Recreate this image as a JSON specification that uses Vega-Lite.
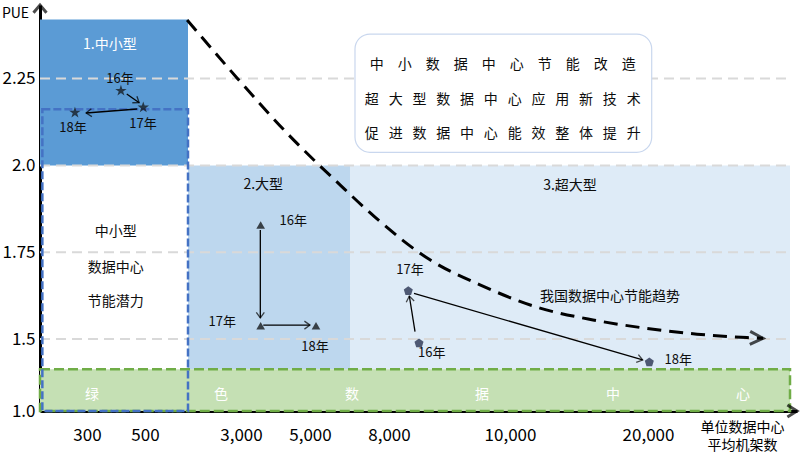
{
  "$schema": "https://vega.github.io/schema/vega-lite/v6.json",
  "width": 757,
  "height": 406,
  "autosize": {"type": "none"},
  "padding": {"left": 40, "top": 5, "right": 3, "bottom": 44},
  "background": "white",
  "config": {"font": "Noto Sans CJK SC", "view": {"stroke": null}},
  "datasets": {
    "regions": [
      {"名称": "中小型", "机架数": 0, "机架数2": 1000, "PUE": 2.0, "PUE2": 2.42},
      {"名称": "大型", "机架数": 1000, "机架数2": 6000, "PUE": 1.29, "PUE2": 2.0},
      {"名称": "超大型", "机架数": 6000, "机架数2": 30000, "PUE": 1.29, "PUE2": 2.0}
    ],
    "trend": [
      {"序": 1, "机架数": 990, "PUE": 2.419},
      {"序": 2, "机架数": 2849, "PUE": 2.252},
      {"序": 3, "机架数": 4333, "PUE": 2.093},
      {"序": 4, "机架数": 5750, "PUE": 1.944},
      {"序": 5, "机架数": 7282, "PUE": 1.851},
      {"序": 6, "机架数": 8678, "PUE": 1.728},
      {"序": 7, "机架数": 9504, "PUE": 1.656},
      {"序": 8, "机架数": 12174, "PUE": 1.589},
      {"序": 9, "机架数": 16014, "PUE": 1.555},
      {"序": 10, "机架数": 19637, "PUE": 1.532},
      {"序": 11, "机架数": 23451, "PUE": 1.514},
      {"序": 12, "机架数": 26972, "PUE": 1.504},
      {"序": 13, "机架数": 28098, "PUE": 1.502}
    ],
    "points": [
      {"类型": "中小型", "年份": "16年", "机架数": 417, "PUE": 2.215},
      {"类型": "中小型", "年份": "17年", "机架数": 494, "PUE": 2.167},
      {"类型": "中小型", "年份": "18年", "机架数": 223, "PUE": 2.152},
      {"类型": "大型", "年份": "16年", "机架数": 3570, "PUE": 1.828},
      {"类型": "大型", "年份": "17年", "机架数": 3570, "PUE": 1.538},
      {"类型": "大型", "年份": "18年", "机架数": 5150, "PUE": 1.538},
      {"类型": "超大型", "年份": "16年", "机架数": 8496, "PUE": 1.47},
      {"类型": "超大型", "年份": "17年", "机架数": 8319, "PUE": 1.638},
      {"类型": "超大型", "年份": "18年", "机架数": 20092, "PUE": 1.338}
    ],
    "arrows": [
      {"类型": "中小型", "从": "16年", "机架数": 437, "PUE": 2.2056, "机架数2": 480, "PUE2": 2.1806},
      {"类型": "中小型", "从": "17年", "机架数": 473, "PUE": 2.1624, "机架数2": 294, "PUE2": 2.1509},
      {"类型": "大型", "从": "16年", "机架数": 3560, "PUE": 1.8139, "机架数2": 3560, "PUE2": 1.5605},
      {"类型": "大型", "从": "17年", "机架数": 3646, "PUE": 1.540, "机架数2": 5000, "PUE2": 1.540},
      {"类型": "超大型", "从": "16年", "机架数": 8430, "PUE": 1.521, "机架数2": 8336, "PUE2": 1.6238},
      {"类型": "超大型", "从": "17年", "机架数": 8413, "PUE": 1.6316, "机架数2": 19615, "PUE2": 1.3542}
    ],
    "yearLabels": [
      {"label": "16年", "机架数": 414, "PUE": 2.249},
      {"label": "17年", "机架数": 493, "PUE": 2.119},
      {"label": "18年", "机架数": 211, "PUE": 2.108},
      {"label": "16年", "机架数": 4516, "PUE": 1.841},
      {"label": "17年", "机架数": 2294, "PUE": 1.548},
      {"label": "18年", "机架数": 5125, "PUE": 1.4465},
      {"label": "17年", "机架数": 8347, "PUE": 1.699},
      {"label": "16年", "机架数": 8706, "PUE": 1.401},
      {"label": "18年", "机架数": 22134, "PUE": 1.354}
    ],
    "whiteLabels": [
      {"label": "1.中小型", "机架数": 379, "PUE": 2.347},
      {"label": "绿", "机架数": 317, "PUE": 1.111},
      {"label": "色", "机架数": 2245, "PUE": 1.111},
      {"label": "数", "机架数": 6103, "PUE": 1.111},
      {"label": "据", "机架数": 9537, "PUE": 1.111},
      {"label": "中", "机架数": 17463, "PUE": 1.111},
      {"label": "心", "机架数": 26690, "PUE": 1.111}
    ],
    "notes": [
      {"label": "2.大型", "机架数": 3646, "PUE": 1.9435},
      {"label": "3.超大型", "机架数": 14348, "PUE": 1.9415},
      {"label": "中小型", "机架数": 399, "PUE": 1.809},
      {"label": "数据中心", "机架数": 399, "PUE": 1.7035},
      {"label": "节能潜力", "机架数": 399, "PUE": 1.6074},
      {"label": "我国数据中心节能趋势", "机架数": 17246, "PUE": 1.62},
      {"label": "中\u2003小\u2003数\u2003据\u2003中\u2003心\u2003节\u2003能\u2003改\u2003造", "机架数": 9880, "PUE": 2.289},
      {"label": "超\u2002\u2009大\u2002\u2009型\u2002\u2009数\u2002\u2009据\u2002\u2009中\u2002\u2009心\u2002\u2009应\u2002\u2009用\u2002\u2009新\u2002\u2009技\u2002\u2009术", "机架数": 9880, "PUE": 2.188},
      {"label": "促\u2002\u2009进\u2002\u2009数\u2002\u2009据\u2002\u2009中\u2002\u2009心\u2002\u2009能\u2002\u2009效\u2002\u2009整\u2002\u2009体\u2002\u2009提\u2002\u2009升", "机架数": 9880, "PUE": 2.09}
    ]
  },
  "layer": [
    {
      "data": {"name": "regions"},
      "mark": {"type": "rect"},
      "encoding": {
        "x": {
          "field": "机架数",
          "type": "quantitative",
          "scale": {
            "type": "linear",
            "domain": [0, 300, 500, 1000, 3000, 5000, 6000, 8000, 10000, 20000, 30000, 31000],
            "range": [0, 47, 105, 148, 201, 270, 310, 349, 470, 608, 750, 757],
            "nice": false,
            "zero": false
          },
          "axis": {
            "orient": "bottom",
            "values": [300, 500, 3000, 5000, 8000, 10000, 20000],
            "labelExpr": "format(datum.value, ',')",
            "grid": false,
            "ticks": false,
            "tickSize": 0,
            "labelFontSize": 17,
            "labelColor": "#000000",
            "labelPadding": 24,
            "labelBaseline": "middle",
            "labelFlush": false,
            "labelOverlap": false,
            "domainColor": "#000000",
            "domainWidth": 3,
            "title": ["单位数据中心", "平均机架数"],
            "titleFontSize": 14,
            "titleFontWeight": "normal",
            "titleColor": "#000000",
            "titleAlign": "center",
            "titleBaseline": "top",
            "titleLineHeight": 18,
            "titleX": 702,
            "titleY": 9
          }
        },
        "x2": {"field": "机架数2"},
        "y": {
          "field": "PUE",
          "type": "quantitative",
          "scale": {
            "type": "linear",
            "domain": [1.0, 1.5, 2.462],
            "range": [406, 334, 0],
            "nice": false,
            "zero": false
          },
          "axis": {
            "orient": "left",
            "values": [1.0, 1.5, 1.75, 2.0, 2.25],
            "labelExpr": "format(datum.value, (round(datum.value * 100) % 50 == 0) ? '.1f' : '.2f')",
            "grid": false,
            "ticks": false,
            "tickSize": 0,
            "labelFontSize": 17,
            "labelColor": "#000000",
            "labelPadding": 5,
            "labelBaseline": "middle",
            "labelFlush": false,
            "labelOverlap": false,
            "domainColor": "#000000",
            "domainWidth": 3,
            "title": "PUE",
            "titleAngle": 0,
            "titleFontSize": 14,
            "titleFontWeight": "normal",
            "titleColor": "#000000",
            "titleAlign": "center",
            "titleBaseline": "middle",
            "titleX": -25,
            "titleY": 8
          }
        },
        "y2": {"field": "PUE2"},
        "color": {
          "field": "名称",
          "type": "nominal",
          "scale": {"domain": ["中小型", "大型", "超大型"], "range": ["#5B9BD5", "#BDD7EE", "#DEEBF7"]},
          "legend": null
        }
      }
    },
    {
      "data": {"values": [{"名称": "绿色数据中心", "机架数": 0, "机架数2": 30000, "PUE": 1.0, "PUE2": 1.29}]},
      "mark": {"type": "rect", "fill": "#C5E0B4", "stroke": "#70AD47", "strokeWidth": 2.5, "strokeDash": [10, 4]},
      "encoding": {
        "x": {"field": "机架数", "type": "quantitative"},
        "x2": {"field": "机架数2"},
        "y": {"field": "PUE", "type": "quantitative"},
        "y2": {"field": "PUE2"}
      }
    },
    {
      "data": {"values": [{"PUE": 1.5}, {"PUE": 1.75}, {"PUE": 2.0}, {"PUE": 2.25}]},
      "mark": {"type": "rule", "color": "#D9D9D9", "strokeWidth": 2, "strokeDash": [10, 6]},
      "encoding": {
        "x": {"datum": 0, "type": "quantitative"},
        "x2": {"datum": 30000},
        "y": {"field": "PUE", "type": "quantitative"}
      }
    },
    {
      "data": {"values": [{"名称": "中小型节能潜力", "机架数": 15, "机架数2": 1000, "PUE": 1.0, "PUE2": 2.162}]},
      "mark": {"type": "rect", "filled": false, "stroke": "#4472C4", "strokeWidth": 2.5, "strokeDash": [8, 3]},
      "encoding": {
        "x": {"field": "机架数", "type": "quantitative"},
        "x2": {"field": "机架数2"},
        "y": {"field": "PUE", "type": "quantitative"},
        "y2": {"field": "PUE2"}
      }
    },
    {
      "data": {"values": [{"名称": "说明框", "机架数": 6256, "机架数2": 20261, "PUE": 2.0377, "PUE2": 2.3784}]},
      "mark": {"type": "rect", "fill": "white", "stroke": "#C9D7EE", "strokeWidth": 1.2, "cornerRadius": 15},
      "encoding": {
        "x": {"field": "机架数", "type": "quantitative"},
        "x2": {"field": "机架数2"},
        "y": {"field": "PUE", "type": "quantitative"},
        "y2": {"field": "PUE2"}
      }
    },
    {
      "data": {"name": "trend"},
      "mark": {"type": "line", "color": "#000000", "strokeWidth": 3, "strokeDash": [14, 8], "interpolate": "monotone"},
      "encoding": {
        "x": {"field": "机架数", "type": "quantitative"},
        "y": {"field": "PUE", "type": "quantitative"},
        "order": {"field": "序", "type": "quantitative"}
      }
    },
    {
      "data": {"name": "trend"},
      "transform": [{"filter": "datum['序'] == 13"}],
      "mark": {"type": "point", "shape": "M-2,-1L0,0L-2,1", "filled": false, "stroke": "#000000", "strokeWidth": 3, "size": 169, "angle": 2},
      "encoding": {
        "x": {"field": "机架数", "type": "quantitative"},
        "y": {"field": "PUE", "type": "quantitative"}
      }
    },
    {
      "data": {"name": "yearLabels"},
      "mark": {"type": "text", "fontSize": 13, "fill": "#0D0D0D", "align": "center", "baseline": "middle"},
      "encoding": {
        "x": {"field": "机架数", "type": "quantitative"},
        "y": {"field": "PUE", "type": "quantitative"},
        "text": {"field": "label", "type": "nominal"}
      }
    },
    {
      "data": {"name": "whiteLabels"},
      "mark": {"type": "text", "fontSize": 14, "fill": "#FFFFFF", "align": "center", "baseline": "middle"},
      "encoding": {
        "x": {"field": "机架数", "type": "quantitative"},
        "y": {"field": "PUE", "type": "quantitative"},
        "text": {"field": "label", "type": "nominal"}
      }
    },
    {
      "data": {"name": "notes"},
      "mark": {"type": "text", "fontSize": 14, "fill": "#0D0D0D", "align": "center", "baseline": "middle"},
      "encoding": {
        "x": {"field": "机架数", "type": "quantitative"},
        "y": {"field": "PUE", "type": "quantitative"},
        "text": {"field": "label", "type": "nominal"}
      }
    },
    {
      "data": {"name": "arrows"},
      "mark": {"type": "rule", "color": "#000000", "strokeWidth": 1.3},
      "encoding": {
        "x": {"field": "机架数", "type": "quantitative"},
        "x2": {"field": "机架数2"},
        "y": {"field": "PUE", "type": "quantitative"},
        "y2": {"field": "PUE2"}
      }
    },
    {
      "data": {"name": "arrows"},
      "transform": [{"filter": "datum['类型'] == '中小型' && datum['从'] == '16年'"}],
      "mark": {"type": "point", "shape": "M-1.4,-1L0,0L-1.4,1", "filled": false, "stroke": "#000000", "strokeWidth": 1.3, "size": 64, "angle": 35},
      "encoding": {"x": {"field": "机架数2", "type": "quantitative"}, "y": {"field": "PUE2", "type": "quantitative"}}
    },
    {
      "data": {"name": "arrows"},
      "transform": [{"filter": "datum['类型'] == '中小型' && datum['从'] == '17年'"}],
      "mark": {"type": "point", "shape": "M-1.4,-1L0,0L-1.4,1", "filled": false, "stroke": "#000000", "strokeWidth": 1.3, "size": 64, "angle": 176},
      "encoding": {"x": {"field": "机架数2", "type": "quantitative"}, "y": {"field": "PUE2", "type": "quantitative"}}
    },
    {
      "data": {"name": "arrows"},
      "transform": [{"filter": "datum['类型'] == '大型' && datum['从'] == '16年'"}],
      "mark": {"type": "point", "shape": "M-1.4,-1L0,0L-1.4,1", "filled": false, "stroke": "#000000", "strokeWidth": 1.3, "size": 64, "angle": 90},
      "encoding": {"x": {"field": "机架数2", "type": "quantitative"}, "y": {"field": "PUE2", "type": "quantitative"}}
    },
    {
      "data": {"name": "arrows"},
      "transform": [{"filter": "datum['类型'] == '大型' && datum['从'] == '17年'"}],
      "mark": {"type": "point", "shape": "M-1.4,-1L0,0L-1.4,1", "filled": false, "stroke": "#000000", "strokeWidth": 1.3, "size": 64, "angle": 0},
      "encoding": {"x": {"field": "机架数2", "type": "quantitative"}, "y": {"field": "PUE2", "type": "quantitative"}}
    },
    {
      "data": {"name": "arrows"},
      "transform": [{"filter": "datum['类型'] == '超大型' && datum['从'] == '16年'"}],
      "mark": {"type": "point", "shape": "M-1.4,-1L0,0L-1.4,1", "filled": false, "stroke": "#000000", "strokeWidth": 1.3, "size": 64, "angle": 261},
      "encoding": {"x": {"field": "机架数2", "type": "quantitative"}, "y": {"field": "PUE2", "type": "quantitative"}}
    },
    {
      "data": {"name": "arrows"},
      "transform": [{"filter": "datum['类型'] == '超大型' && datum['从'] == '17年'"}],
      "mark": {"type": "point", "shape": "M-1.4,-1L0,0L-1.4,1", "filled": false, "stroke": "#000000", "strokeWidth": 1.3, "size": 64, "angle": 16},
      "encoding": {"x": {"field": "机架数2", "type": "quantitative"}, "y": {"field": "PUE2", "type": "quantitative"}}
    },
    {
      "data": {"values": [{"轴": "PUE"}]},
      "mark": {"type": "point", "shape": "M-1,1.2L0,0L1,1.2", "filled": false, "stroke": "#000000", "strokeWidth": 3, "size": 169},
      "encoding": {"x": {"datum": 0, "type": "quantitative"}, "y": {"datum": 2.462, "type": "quantitative"}}
    },
    {
      "data": {"values": [{"轴": "机架数"}]},
      "mark": {"type": "point", "shape": "M-1.6,-1L0,0L-1.6,1", "filled": false, "stroke": "#000000", "strokeWidth": 3, "size": 144},
      "encoding": {"x": {"datum": 31000, "type": "quantitative"}, "y": {"datum": 1.0, "type": "quantitative"}}
    },
    {
      "data": {"name": "points"},
      "transform": [{"filter": "datum['类型'] == '大型'"}],
      "mark": {"type": "point", "shape": "triangle-up", "filled": true, "fill": "#000000", "size": 75},
      "encoding": {"x": {"field": "机架数", "type": "quantitative"}, "y": {"field": "PUE", "type": "quantitative"}}
    },
    {
      "data": {"name": "points"},
      "transform": [{"filter": "datum['类型'] == '超大型'"}],
      "mark": {"type": "point", "shape": "M0,-1L0.951,-0.309L0.588,0.809L-0.588,0.809L-0.951,-0.309Z", "filled": true, "fill": "#0F1A3A", "size": 90},
      "encoding": {"x": {"field": "机架数", "type": "quantitative"}, "y": {"field": "PUE", "type": "quantitative"}}
    },
    {
      "data": {"name": "points"},
      "transform": [{"filter": "datum['类型'] == '中小型'"}],
      "mark": {"type": "point", "shape": "M0,-1L0.2245,-0.309L0.951,-0.309L0.363,0.118L0.588,0.809L0,0.382L-0.588,0.809L-0.363,0.118L-0.951,-0.309L-0.2245,-0.309Z", "filled": true, "fill": "#0D0D0D", "size": 144},
      "encoding": {"x": {"field": "机架数", "type": "quantitative"}, "y": {"field": "PUE", "type": "quantitative"}}
    }
  ]
}
